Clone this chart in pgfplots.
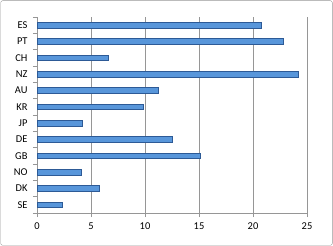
\documentclass[border=0pt]{standalone}
\usepackage{pgfplots}
\pgfplotsset{compat=1.18}
\usepackage{fontspec}
\setmainfont{Carlito}
\definecolor{barfill}{RGB}{88,150,218}
\definecolor{bardraw}{RGB}{45,90,150}
\definecolor{gridc}{RGB}{150,150,150}
\begin{document}
\begin{tikzpicture}
\useasboundingbox (0,0) rectangle (333bp,246bp);
\draw[gridc, rounded corners=2bp] (0.7bp,0.7bp) rectangle (332.3bp,245.3bp);
\begin{axis}[
  at={(37bp,33bp)}, anchor=south west,
  scale only axis, width=270bp, height=196bp,
  xbar, bar width=5.5bp,
  xmin=0, xmax=25, xtick={0,5,10,15,20,25},
  ymin=-0.5, ymax=11.5,
  ytick={0,...,11},
  yticklabels={SE,DK,NO,GB,DE,JP,KR,AU,NZ,CH,PT,ES},
  minor ytick={-0.5,0.5,...,11.5},
  axis x line*=bottom, axis y line*=left,
  axis line style={gridc},
  xmajorgrids, major grid style={gridc, line width=0.8pt},
  major tick length=0pt, minor tick length=4bp,
  x tick style={gridc, line width=0.6pt},
  every minor tick/.style={gridc, line width=0.6pt},
  xtick align=outside, ytick align=outside,
  extra x ticks={0,5,10,15,20,25}, extra x tick labels={},
  extra x tick style={major tick length=4bp, grid=none},
  tick label style={font=\fontsize{10.5}{12}\selectfont, text=black},
  yticklabel style={xshift=-6bp},
  xticklabel style={yshift=-6bp},
  /pgf/number format/assume math mode=true,
  clip=false,
]
\addplot[fill=barfill, draw=bardraw, line width=0.6pt] coordinates {
 (2.3,0) (5.8,1) (4.1,2) (15.1,3) (12.5,4) (4.2,5)
 (9.8,6) (11.2,7) (24.2,8) (6.6,9) (22.8,10) (20.8,11)
};
\end{axis}
\end{tikzpicture}
\end{document}
